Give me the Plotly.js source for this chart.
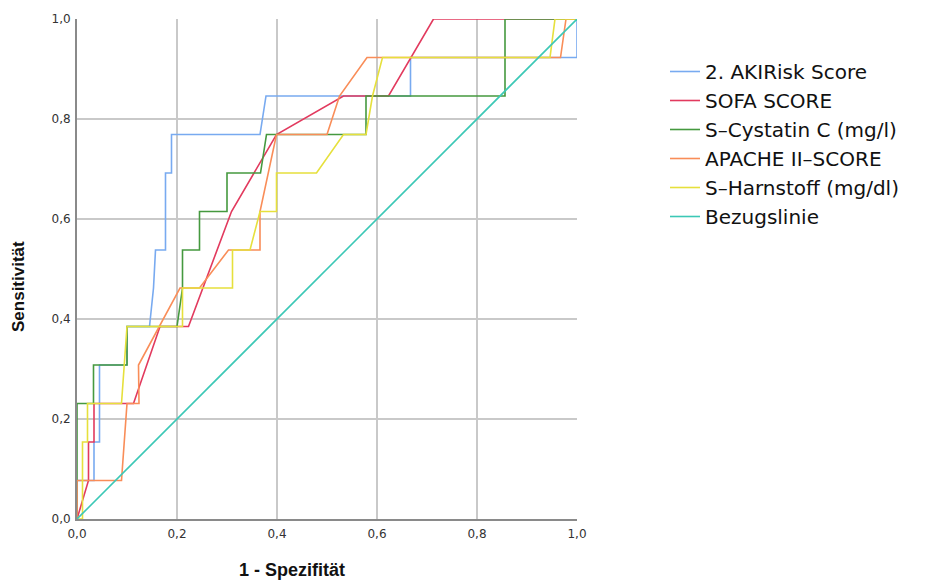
<!DOCTYPE html>
<html>
<head>
<meta charset="utf-8">
<script src="https://cdn.plot.ly/plotly-3.0.1.min.js"></script>
<style>html,body{margin:0;padding:0;background:#fff;}#chart{width:940px;height:581px;}</style>
</head>
<body>
<div id="chart"></div>
<script>
// ROC curves: x = 1 - Spezifität, y = Sensitivität
const seriesNames = ["2. AKIRisk Score", "SOFA SCORE", "S\u2013Cystatin C (mg/l)", "APACHE II\u2013SCORE", "S\u2013Harnstoff (mg/dl)", "Bezugslinie"];

const akiX = [0, 0, 0.034, 0.034, 0.045, 0.045, 0.10, 0.10, 0.145, 0.153, 0.157, 0.177, 0.177, 0.189, 0.189, 0.366, 0.378, 0.667, 0.667, 1.0, 1.0];
const akiY = [0, 0.077, 0.077, 0.154, 0.154, 0.308, 0.308, 0.385, 0.385, 0.462, 0.538, 0.538, 0.692, 0.692, 0.769, 0.769, 0.846, 0.846, 0.923, 0.923, 1.0];

const sofaX = [0, 0.023, 0.023, 0.034, 0.034, 0.113, 0.166, 0.223, 0.309, 0.399, 0.533, 0.623, 0.713, 1.0];
const sofaY = [0, 0.077, 0.154, 0.154, 0.231, 0.231, 0.385, 0.385, 0.615, 0.769, 0.846, 0.846, 1.0, 1.0];

const cystX = [0, 0, 0.033, 0.033, 0.10, 0.10, 0.20, 0.211, 0.211, 0.245, 0.245, 0.30, 0.30, 0.367, 0.379, 0.578, 0.578, 0.856, 0.856, 1.0];
const cystY = [0, 0.231, 0.231, 0.308, 0.308, 0.385, 0.385, 0.462, 0.538, 0.538, 0.615, 0.615, 0.692, 0.692, 0.769, 0.769, 0.846, 0.846, 1.0, 1.0];

const apacheX = [0, 0, 0.089, 0.10, 0.124, 0.123, 0.206, 0.245, 0.303, 0.366, 0.366, 0.399, 0.50, 0.525, 0.58, 0.967, 0.978, 1.0];
const apacheY = [0, 0.077, 0.077, 0.231, 0.231, 0.308, 0.462, 0.462, 0.538, 0.538, 0.615, 0.769, 0.769, 0.846, 0.923, 0.923, 1.0, 1.0];

const harnX = [0, 0.011, 0.011, 0.021, 0.021, 0.089, 0.10, 0.211, 0.211, 0.311, 0.311, 0.346, 0.366, 0.399, 0.399, 0.479, 0.533, 0.578, 0.591, 0.611, 0.946, 0.956, 1.0];
const harnY = [0, 0, 0.154, 0.154, 0.231, 0.231, 0.385, 0.385, 0.462, 0.462, 0.538, 0.538, 0.615, 0.615, 0.692, 0.692, 0.769, 0.769, 0.846, 0.923, 0.923, 1.0, 1.0];

const refX = [0, 1];
const refY = [0, 1];

const tickVals = [0, 0.2, 0.4, 0.6, 0.8, 1.0];
const tickText = ["0,0", "0,2", "0,4", "0,6", "0,8", "1,0"];
const xTitle = "1 - Spezifität";
const yTitle = "Sensitivität";

const colors = ["#78aaf0", "#e23a5e", "#45993f", "#f98d58", "#e6e03c", "#3cc8b6"];
const xs = [akiX, sofaX, cystX, apacheX, harnX, refX];
const ys = [akiY, sofaY, cystY, apacheY, harnY, refY];

const traces = seriesNames.map((n, i) => ({
  x: xs[i], y: ys[i], name: n, type: "scatter", mode: "lines",
  line: {color: colors[i], width: 1.6}, hoverinfo: "x+y+name"
}));

const sans = "'DejaVu Sans', Verdana, sans-serif";
const lib = "'Liberation Sans', Arial, sans-serif";
const layout = {
  width: 940, height: 581,
  margin: {l: 77, r: 363, t: 19, b: 62, pad: 0},
  paper_bgcolor: "#ffffff", plot_bgcolor: "#ffffff",
  separators: ",.",
  font: {family: sans, color: "#222"},
  showlegend: true,
  legend: {
    x: 1.176, y: 0.934, xanchor: "left", yanchor: "top",
    font: {family: sans, size: 20, color: "#111"},
    itemwidth: 30, tracegroupgap: 0, bgcolor: "rgba(0,0,0,0)"
  },
  xaxis: {
    range: [0, 1], tickvals: tickVals, ticktext: tickText,
    showgrid: true, gridcolor: "#c9c9c9", gridwidth: 1.5,
    zeroline: false, showline: true, linecolor: "#8a8a8a", linewidth: 2,
    ticks: "", ticklabelstandoff: 3, tickfont: {family: sans, size: 12, color: "#333"},
    fixedrange: true
  },
  yaxis: {
    range: [0, 1], tickvals: tickVals, ticktext: tickText,
    showgrid: true, gridcolor: "#c9c9c9", gridwidth: 1.5,
    zeroline: false, showline: true, linecolor: "#8a8a8a", linewidth: 2,
    ticks: "", ticklabelstandoff: 2, tickfont: {family: sans, size: 12, color: "#333"},
    fixedrange: true
  },
  annotations: [
    {text: "<b>" + xTitle + "</b>", xref: "paper", yref: "paper", x: 0.429, y: -0.102,
     xanchor: "center", yanchor: "middle", showarrow: false, font: {family: lib, size: 18, color: "#111"}},
    {text: "<b>" + yTitle + "</b>", xref: "paper", yref: "paper", x: -0.118, y: 0.464,
     xanchor: "center", yanchor: "middle", textangle: -90, showarrow: false, font: {family: lib, size: 17, color: "#111"}}
  ]
};

Plotly.newPlot("chart", traces, layout, {displayModeBar: false, staticPlot: true});
</script>
</body>
</html>
